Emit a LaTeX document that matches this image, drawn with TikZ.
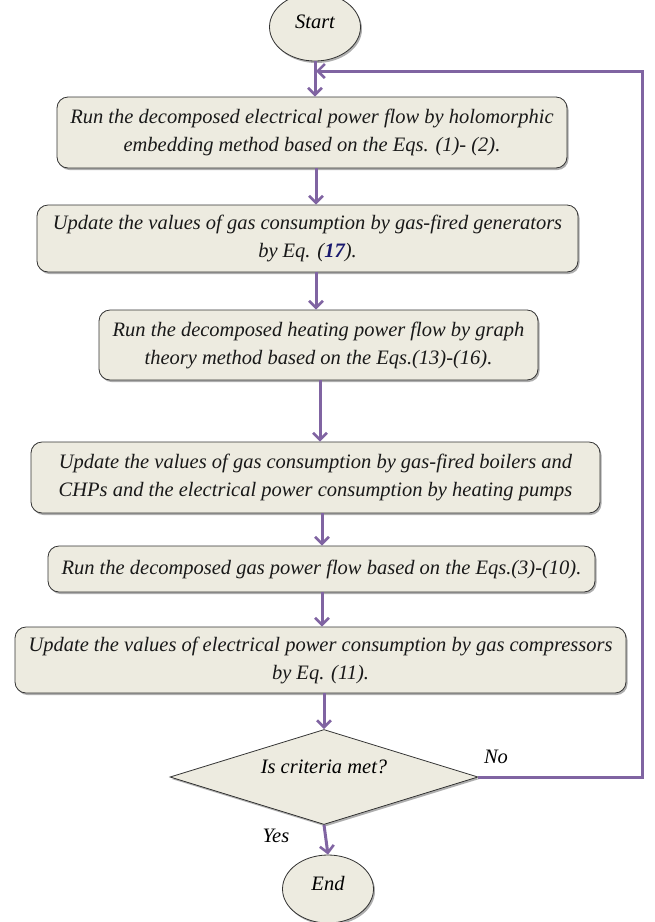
\documentclass[tikz,border=0pt]{standalone}
\usepackage{fontspec}
\setmainfont{Liberation Serif}
\usetikzlibrary{shapes.geometric,arrows.meta,shadows}
\definecolor{boxfill}{RGB}{237,235,224}
\definecolor{flowline}{RGB}{128,100,162}
\definecolor{eqblue}{RGB}{25,25,110}
\tikzset{
  boxshadow/.style={drop shadow={shadow xshift=1.5pt,shadow yshift=-2pt,opacity=0.45,fill=black!70}},
  stepbox/.style={draw=black!80, line width=0.8pt, rounded corners=11pt, fill=boxfill,
    boxshadow, align=center, inner sep=0pt, text=black!90,
    font=\fontsize{20.5}{28}\selectfont\itshape},
  terminal/.style={ellipse, draw=black!80, line width=0.8pt, fill=boxfill, boxshadow,
    inner sep=0pt, minimum width=91pt, minimum height=68pt, text depth=11pt,
    font=\fontsize{20.5}{28}\selectfont\itshape},
  decision/.style={diamond, draw=black!80, line width=0.8pt, fill=boxfill, boxshadow,
    inner sep=0pt, aspect=3.2, minimum width=308pt, minimum height=95pt, text depth=21pt,
    font=\fontsize{20.5}{28}\selectfont\itshape},
  flow/.style={draw=flowline, line width=3pt, -{Straight Barb[length=7pt,width=14pt,line width=2.6pt]}},
  lbl/.style={font=\fontsize{20.5}{28}\selectfont\itshape}
}
\begin{document}
\begin{tikzpicture}[x=1pt,y=-1pt]
  \useasboundingbox (0,0) rectangle (654,922);
  % start and steps
  \node[terminal] (start) at (315,27) {Start};
  \node[stepbox, minimum width=510pt, minimum height=71pt] (run1) at (312,132.5)
    {Run the decomposed electrical power flow by holomorphic\\embedding method based on the Eqs. (1)- (2).};
  \node[stepbox, minimum width=541pt, minimum height=67pt] (gen) at (307.5,238.5)
    {Update the values of gas consumption by gas-fired generators\\by Eq. (\textcolor{eqblue}{\bfseries 17}).};
  \node[stepbox, minimum width=439pt, minimum height=70pt] (heat) at (318.5,345)
    {Run the decomposed heating power flow by graph\\theory method based on the Eqs.(13)-(16).};
  \node[stepbox, minimum width=569pt, minimum height=71pt] (chp) at (315.5,477.5)
    {Update the values of gas consumption by gas-fired boilers and\\CHPs and the electrical power consumption by heating pumps};
  \node[stepbox, minimum width=547pt, minimum height=46pt] (gas) at (321.5,569)
    {Run the decomposed gas power flow based on the Eqs.(3)-(10).};
  \node[stepbox, minimum width=611pt, minimum height=66pt] (comp) at (320.5,660)
    {Update the values of electrical power consumption by gas compressors\\by Eq. (11).};
  \node[decision] (crit) at (324,777) {Is criteria met?};
  \node[terminal] (end) at (328,889) {End};
  \coordinate (join) at (316,71);

  % arrows
  \draw[flow] (start.south) -- (start.south |- run1.north);
  \draw[flow] (316,168) -- (gen.north -| 316,0);
  \draw[flow] (316,272) -- (heat.north -| 316,0);
  \draw[flow] (320,380) -- (chp.north -| 320,0);
  \draw[flow] (322,513) -- (gas.north -| 322,0);
  \draw[flow] (322,592) -- (comp.north -| 322,0);
  \draw[flow] (324,693) -- (crit.north);
  \draw[flow] (crit.south) -- (end.north);
  \draw[flow] (crit.east) -- (642,777) |- (join);
  \node[lbl] (no) at (496,757) {No};
  \node[lbl] (yes) at (276,836) {Yes};
\end{tikzpicture}
\end{document}
